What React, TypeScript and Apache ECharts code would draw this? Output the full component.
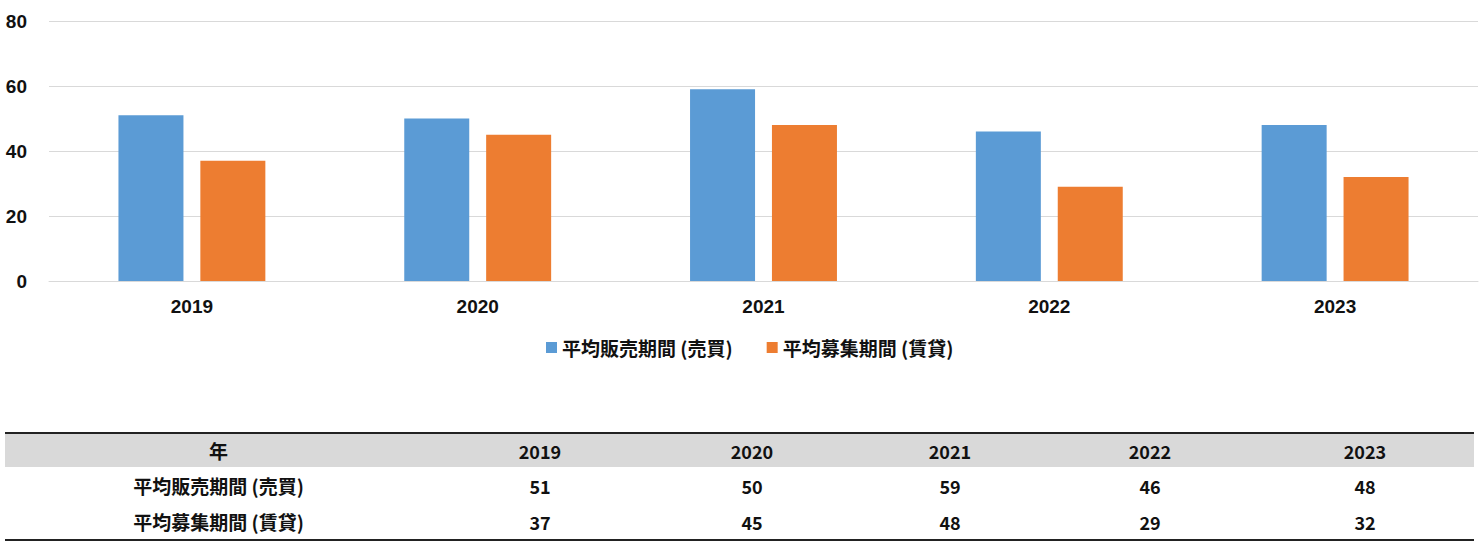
import React, { useEffect, useRef } from "react";
import * as echarts from "echarts";

const years = ["2019", "2020", "2021", "2022", "2023"];
const salesLabel = "平均販売期間 (売買)";
const rentLabel = "平均募集期間 (賃貸)";
const salesValues = [51, 50, 59, 46, 48];
const rentValues = [37, 45, 48, 29, 32];
const yTicks = { min: 0, max: 80, interval: 20 };

const tableHeader = "年";
const tableRowLabels = ["平均販売期間 (売買)", "平均募集期間 (賃貸)"];

export default function App() {
  const ref = useRef<HTMLDivElement>(null);
  useEffect(() => {
    document.body.style.margin = "0";
    const chart = echarts.init(ref.current!, null, { renderer: "svg" });
    chart.setOption({
      animation: false,
      textStyle: { fontFamily: "Liberation Sans, Arial, sans-serif" },
      grid: { left: 49, right: 5, top: 21, bottom: 109 },
      legend: {
        top: 333,
        left: 541,
        itemWidth: 11,
        itemHeight: 11,
        itemGap: 34,
        icon: "rect",
        textStyle: {
          fontSize: 19,
          fontWeight: "bold",
          color: "#111",
          fontFamily: "Noto Sans CJK JP, sans-serif",
        },
      },
      xAxis: {
        type: "category",
        data: years,
        axisLine: { lineStyle: { color: "#d9d9d9" } },
        axisTick: { show: false },
        axisLabel: { fontSize: 19, fontWeight: "bold", color: "#111", margin: 16 },
      },
      yAxis: {
        type: "value",
        min: yTicks.min,
        max: yTicks.max,
        interval: yTicks.interval,
        axisLabel: { fontSize: 19, fontWeight: "bold", color: "#111", margin: 22 },
        splitLine: { lineStyle: { color: "#d9d9d9" } },
      },
      series: [
        {
          name: salesLabel,
          type: "bar",
          data: salesValues,
          barWidth: 65,
          barGap: "26%",
          itemStyle: { color: "#5b9bd5" },
        },
        {
          name: rentLabel,
          type: "bar",
          data: rentValues,
          barWidth: 65,
          barGap: "26%",
          itemStyle: { color: "#ed7d31" },
        },
      ],
    });
    return () => chart.dispose();
  }, []);

  const cellFont: React.CSSProperties = {
    fontFamily: "Noto Sans CJK JP, Liberation Sans, sans-serif",
    fontWeight: "bold",
    fontSize: 18,
    color: "#111",
    textAlign: "center",
    padding: 0,
  };
  const labelFont: React.CSSProperties = { ...cellFont, fontSize: 19 };
  const colWidths = [427, 216, 208, 188, 212, 218];

  return (
    <div style={{ position: "absolute", left: 0, top: 0, width: 1483, height: 549, background: "#fff" }}>
      <div ref={ref} style={{ position: "absolute", left: 0, top: 0, width: 1483, height: 390 }} />
      <table
        style={{
          position: "absolute",
          left: 5,
          top: 432,
          width: 1469,
          borderCollapse: "collapse",
          borderTop: "2px solid #222",
          borderBottom: "2px solid #222",
          tableLayout: "fixed",
        }}
      >
        <colgroup>
          {colWidths.map((w, i) => (
            <col key={i} style={{ width: w }} />
          ))}
        </colgroup>
        <tbody>
          <tr style={{ background: "#d9d9d9", height: 34 }}>
            <td style={labelFont}>{tableHeader}</td>
            {years.map((y) => (
              <td key={y} style={cellFont}>{y}</td>
            ))}
          </tr>
          <tr style={{ height: 37 }}>
            <td style={labelFont}>{tableRowLabels[0]}</td>
            {salesValues.map((v, i) => (
              <td key={i} style={cellFont}>{v}</td>
            ))}
          </tr>
          <tr style={{ height: 36 }}>
            <td style={labelFont}>{tableRowLabels[1]}</td>
            {rentValues.map((v, i) => (
              <td key={i} style={cellFont}>{v}</td>
            ))}
          </tr>
        </tbody>
      </table>
    </div>
  );
}
